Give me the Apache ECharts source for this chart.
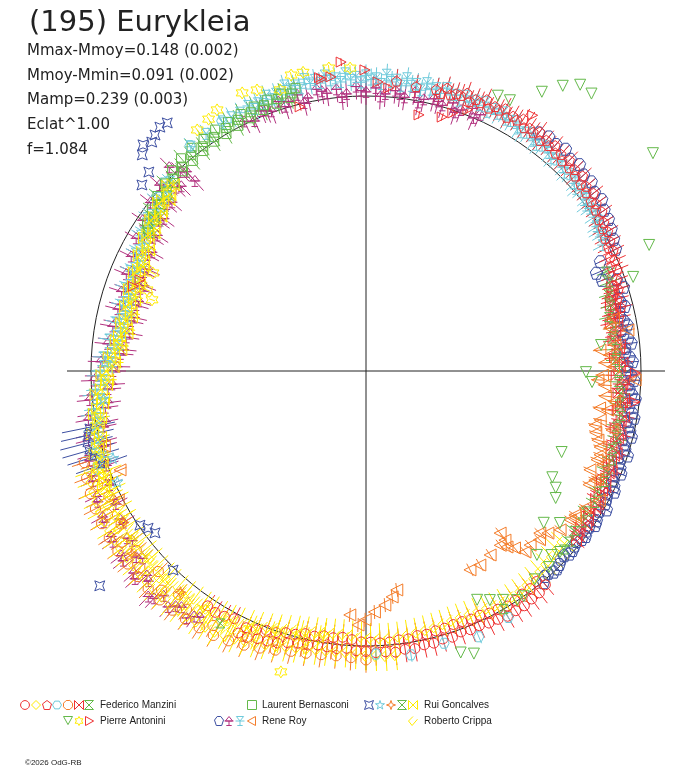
<!DOCTYPE html>
<html>
<head>
<meta charset="utf-8">
<title>(195) Eurykleia</title>
<script src="https://cdn.jsdelivr.net/npm/echarts/dist/echarts.min.js"></script>
<style>
  html, body { margin: 0; padding: 0; background: #fff; }
  #main { width: 688px; height: 768px; }
</style>
</head>
<body>
<div id="main"></div>
<script>
// points are [phase angle (deg, counter-clockwise from the right), relative radius]
// reference circle has radius 1

// Federico Manzini
var fmRedCircle = [[236,1.03],[238,1.035],[240,1.03],[242,1.02],
  [244,1.06],[246,1.061],[248,1.05],[250,1.045],[252,1.04],[254,1.029],[256,1.02],[258,1.019],[260,1.012],[262,1.013],[264,1.015],[266,1.011],[268,1.018],[270,1.02],[272,1.025],[274,1.024],[276,1.028],[278,1.022],[280,1.025],[282,1.018],[284,1.02],[286,1.014],[288,1.018],[290,1.01],[292,1.015],[294,1.014],[296,1.02],[298,1.023],[300,1.03],[302,1.028],[304,1.03],[306,1.025],[308,1.024],[310,1.015],
  [245,1.03],[247,1.022],[249,1.01],[251,1.006],[253,0.995],[255,0.991],[257,0.98],[259,0.982],[261,0.975],[263,0.977],[265,0.972],[267,0.978],[269,0.985],[271,0.986],[273,0.99],[275,0.989],[277,0.985],[279,0.986],[281,0.98],[283,0.982],[285,0.978],[287,0.978],[289,0.975],[291,0.976],[293,0.98],[295,0.98],[297,0.988],[299,0.99],[301,0.997],[303,0.995],[305,0.99],[307,0.991],[309,0.985]];
var fmYellowDiamond = [[205,1.045],[207.5,1.06],[210,1.055],[212.5,1.07],[215,1.06],[217.5,1.075],[220,1.06],[222.5,1.075],[225,1.065],[227.5,1.08],[230,1.065],[232.5,1.075],[235,1.06],[237.5,1.07],[240,1.055],[242.5,1.06],[245,1.04],[247.5,1.045],[250,1.02],[252.5,1.025],[255,1.0],[257.5,1.005],[260,0.99],
  [206,1.035],[211,1.04],[216,1.05],[221,1.045],[226,1.05],[231,1.055],[236,1.045],[241,1.04],[246,1.025],[251,1.0],[256,0.985],[261,0.975]];
var fmRedPentagon = [[12,0.94],[14,0.955],[16,0.95],[18,0.965],[20,0.97],[22,0.985],[24,0.99],[26,1.0],[28,1.005],[30,1.015],[32,1.02],[34,1.035],[36,1.035],[38,1.05],[40,1.045],[42,1.06],[44,1.055],[46,1.065],[48,1.06],[50,1.07],[52,1.065],[54,1.075],[56,1.065],[58,1.08],[60,1.07],[62,1.08],[64,1.07],[66,1.08],[68,1.065],[70,1.075],[72,1.06],[74,1.07],[76,1.055],[80,1.05],[84,1.06],
  [13,0.925],[15,0.935],[17,0.94],[19,0.955],[21,0.96],[23,0.97],[25,0.98],[27,0.99],[29,0.995],[31,1.005],[33,1.01],[35,1.02],[37,1.025],[39,1.03],[41,1.035],[43,1.04],[45,1.045],[47,1.045],[49,1.05],[51,1.055],[53,1.05],[55,1.06],[57,1.055],[59,1.065],[61,1.055],[63,1.065],[65,1.055],[67,1.06],[69,1.05],[71,1.06],[73,1.05],[75,1.045]];
var fmCyanHexagon = [[272,1.03],[279,1.045],[286,1.03],[293,1.05],[300,1.035],[120,1.05],[128,1.04]];
var fmOrangeOctagon = [[198,1.077],[201,1.088],[204,1.097],[207,1.104],[210,1.11],[213,1.113],[216,1.115],[219,1.115],[222,1.117],[225,1.12],[228,1.12],[231,1.119],[234,1.116],[237,1.113],[240,1.11],[243,1.101],[246,1.091],[249,1.079],[252,1.067],[255,1.055],[258,1.049],[261,1.044],[264,1.041],[267,1.043],[270,1.05],
  [206,1.04],[212,1.05],[218,1.06],[224,1.05],[230,1.06],
  [199,1.05],[203,1.06],[209,1.075],[215,1.085],[221,1.09],[227,1.09],[233,1.085],[239,1.08],[245,1.065],[251,1.04],[257,1.02],[263,1.01]];
var fmRedBowtie = [[322,0.975],[324,0.965],[326,0.975],[328,0.96],[330,0.975],[332,0.96],[334,0.97],[336,0.955],[338,0.965],[340,0.95],[342,0.96],[344,0.945],[346,0.955],[348,0.94],[350,0.955],[352,0.935],[354,0.945],[356,0.93],[358,0.94],[0,0.92],[2,0.935],[4,0.915],[6,0.93],[8,0.915],[10,0.93],[12,0.915],[14,0.935],[16,0.925],[18,0.945],
  [321,0.985],[323,0.97],[325,0.98],[327,0.965],[329,0.975],[331,0.955],[333,0.965],[335,0.945],[337,0.96],[339,0.945],[341,0.955],[343,0.935],[345,0.95],[347,0.93],[349,0.945],[351,0.925],[353,0.94],[355,0.92],[357,0.935],[359,0.91],[1,0.925],[3,0.905],[5,0.925],[7,0.905],[9,0.92],[11,0.905],[13,0.925],[15,0.92],[17,0.935],[19,0.945]];
var fmGreenHourglass = [[320,0.965],[322.5,0.955],[325,0.96],[327.5,0.95],[330,0.96],[332.5,0.95],[335,0.955],[337.5,0.945],[340,0.95],[342.5,0.94],[345,0.945],[347.5,0.935],[350,0.94],[352.5,0.93],[355,0.93],[357.5,0.92],[0,0.92],[2.5,0.91],[5,0.915],[7.5,0.905],[10,0.915],[12.5,0.905],[15,0.92],[17.5,0.925],[20,0.94],[22.5,0.945]];

// Pierre Antonini
var paGreenTriangle = [[64.4,1.11],[62,1.115],[57.8,1.2],[55.4,1.26],[53.2,1.3],[50.9,1.3],[37.2,1.31],[24,1.127],[19.4,1.03],[6.3,0.86],[359.7,0.8],[357.2,0.823],[337.5,0.77],[330.3,0.78],[328.4,0.81],[326.2,0.83],[319.5,0.85],[321.9,0.896],[312.9,0.913],[315.2,0.95],[288.6,1.08],[290.9,1.1],[295.9,0.925],[298.4,0.947],[300.9,0.97],[303.4,0.998],[305,1.0],[309,0.975],[313,0.975],[317,0.965]];
var paYellowStar = [[101.9,1.11],[111.2,1.096],[107,1.069],[114,1.107],[119.7,1.093],[97,1.11],[93,1.103],[104.2,1.11],[122,1.08],[125,1.07],[155.3,0.853],[161.6,0.82],[159.7,0.849],[254.2,1.137]];
var paRedTriangle = [[94.6,1.127],[90.2,1.095],[98.6,1.074],[96.8,1.077],[87.6,1.052],[85.4,1.033],[78.3,0.951],[73.3,0.964],[71.4,0.99],[68.7,1.02],[104,0.99],[99,1.08],[56.9,1.11],[158,0.886],[160,0.9],[359.6,0.98],[353.4,0.985]];

// Laurent Bernasconi
var lbGreenSquare = [[104,1.06],[105.5,1.03],[107,1.055],[108.5,1.025],[110,1.05],[111.5,1.02],[113,1.045],[114.5,1.01],[116,1.04],[117.5,1.005],[119,1.035],[120.5,1.0],[122,1.035],[123.5,1.0],[125,1.03],[126.5,0.995],[128,1.03],[129.5,0.99],[131,1.025],[132.5,0.985],[134,1.015],[135.5,0.975],[137,1.0],[138.5,0.965],[140,0.99],[141.5,0.955],[143,0.975],[144.5,0.945],[146,0.96],[147.5,0.935],
  [105,1.045],[108,1.04],[111,1.035],[114,1.03],[117,1.025],[120,1.02],[123,1.015],[126,1.01],[129,1.01],[132,1.0],[135,0.99],[138,0.975],[141,0.965],[144,0.955],[147,0.945]];

// Rene Roy
var rrBluePentagon = [[26,1.01],[28,1.02],[30,1.03],[32,1.04],[34,1.045],[36,1.06],[38,1.055],[40,1.07],[42,1.065],[44,1.08],[46,1.07],[48,1.085],[50,1.075],[52,1.08],[54,1.07],
  [25,0.94],[23,0.91],[21,0.92],[22,0.95],
  [20,0.97],[18,0.985],[16,0.955],[14,0.97],[12,0.945],[10,0.965],[8,0.945],[6,0.97],[4,0.945],[2,0.97],[0,0.95],[358,0.975],[356,0.96],[354,0.985],[352,0.965],[350,0.99],[348,0.975],[346,0.995],[344,0.975],[342,1.0],[340,0.98],[338,1.0],[336,0.985],[334,1.005],[332,0.99],[330,1.01],[328,0.99],[326,1.005],[324,0.99],[322,0.995],[320,0.99],[318,0.995],[316,0.985],[314,1.0],[312,0.99],[310,1.005],
  [311,0.99],[313,1.0],[315,0.995],[317,0.985],[319,0.995],[321,0.985],[323,1.0],[325,0.99],[327,1.0],[329,0.99],[331,0.995],[333,0.985],[335,0.995],[337,0.975],[339,0.99],[341,0.97],[343,0.985],[345,0.965],[347,0.985],[349,0.965],[351,0.98],[353,0.955],[355,0.97],[357,0.955],[359,0.965],[1,0.95],[3,0.96],[5,0.945],[7,0.96],[9,0.94],[11,0.955],[13,0.945],[15,0.96]];
var rrMagenta = [[66,1.02],[68,1.03],[70,1.01],[72,1.025],[74,1.005],[76,1.02],[78,1.01],[80,1.03],[82,1.005],[84,1.025],[86,1.01],[88,1.03],[90,1.015],[92,1.035],[94,1.01],[96,1.03],[98,1.02],[100,1.04],[102,1.015],[104,1.035],[106,1.02],[108,1.03],[110,1.005],[112,1.02],[114,0.995],[116,1.01],[132,0.93],
  [67,1.0],[71,0.995],[75,1.015],[79,0.995],[83,1.015],[87,1.0],[91,1.02],[95,1.0],[99,1.03],[103,1.0],[107,1.005],[111,1.015],
  [132,0.975],[134,1.03],[136,0.96],[138,1.01],[140,0.945],[142,0.995],[144,0.93],[146,0.98],[148,0.915],[150,0.965],[152,0.9],[154,0.95],[156,0.885],[158,0.94],[160,0.875],[162,0.935],[164,0.87],[166,0.93],[168,0.875],[170,0.935],[172,0.88],[174,0.945],[176,0.895],[178,0.965],[180,0.92],[182,0.99],[184,0.94],[186,1.01],[188,0.957],[190,1.025],[192,0.975],[194,1.04],[196,0.99],[198,1.057],[200,1.005],[202,1.07],[204,1.02],[206,1.085],[208,1.03],[210,1.1],[212,1.04],[214,1.11],[216,1.05],[218,1.12],[220,1.06],[222,1.13],[224,1.1],[226,1.14],[228,1.1],[230,1.12],[232,1.09],[234,1.11],[236,1.08],
  [133,0.99],[135,0.95],[137,0.985],[139,0.935],[141,0.97],[143,0.92],[145,0.955],[147,0.905],[149,0.94],[151,0.89],[153,0.93],[155,0.875],[157,0.925],[159,0.865],[161,0.92],[163,0.865],[165,0.92],[167,0.865],[169,0.925],[171,0.87],[173,0.935],[175,0.885],[177,0.95],[179,0.905],[181,0.975],[183,0.925],[185,1.0],[187,0.945],[189,1.015],[191,0.965],[193,1.035],[195,0.985],[197,1.05],[199,1.0],[201,1.065],[203,1.015],[205,1.08],[207,1.03],[209,1.095],[211,1.045],[213,1.105],[215,1.06],[217,1.115],[219,1.075],[221,1.12],[223,1.09],[227,1.13],[231,1.1],[235,1.09]];
var rrCyan = [[28,0.975],[30,0.99],[32,0.99],[34,1.0],[36,1.005],[38,1.015],[40,1.02],[42,1.02],[44,1.03],[46,1.03],[48,1.035],[50,1.035],[52,1.04],[54,1.035],[56,1.045],[58,1.04],[60,1.05],[62,1.065],[64,1.06],[66,1.07],[68,1.06],[70,1.065],[72,1.055],[74,1.07],[76,1.06],[78,1.07],[80,1.06],[82,1.075],[84,1.065],[86,1.08],[88,1.065],[90,1.075],[92,1.07],[94,1.085],[96,1.07],[98,1.085],[100,1.075],[102,1.085],[104,1.07],[106,1.08],[108,1.06],[110,1.065],[112,1.05],[114,1.055],[116,1.045],[118,1.045],[120,1.04],[124,1.04],[128,1.035],
  [29,1.0],[31,0.985],[33,1.005],[35,1.02],[37,1.0],[39,1.03],[41,1.01],[43,1.04],[45,1.02],[47,1.045],[49,1.025],[51,1.05],[53,1.03],[55,1.055],[57,1.035],[59,1.06],
  [61,1.045],[63,1.05],[65,1.04],[67,1.05],[69,1.045],[71,1.04],[73,1.05],[75,1.045],[77,1.05],[79,1.04],[81,1.05],[83,1.045],[85,1.055],[87,1.045],[89,1.06],[91,1.05],[93,1.06],[95,1.055],[97,1.065],[99,1.06],[101,1.065],[103,1.055],[105,1.06],[107,1.05],[109,1.045],[111,1.04],[113,1.035],
  [136,0.99],[138,0.975],[140,0.98],[142,0.96],[144,0.965],[146,0.945],[148,0.95],[150,0.93],[152,0.935],[154,0.915],[156,0.92],[158,0.905],[160,0.915],[162,0.9],[164,0.91],[166,0.895],[168,0.91],[170,0.9],[172,0.92],[174,0.91],[176,0.935],[178,0.93],[180,0.96],[182,0.955],[184,0.98],[186,0.97],[188,0.995],[190,0.985],[192,1.01],[194,1.0],[196,1.025],[198,1.01],[200,1.04],
  [137,1.0],[139,0.96],[141,0.985],[143,0.945],[145,0.97],[147,0.93],[149,0.955],[151,0.915],[153,0.94],[155,0.9],[157,0.93],[159,0.895],[161,0.925],[163,0.89],[165,0.92],[167,0.885],[169,0.925],[171,0.89],[173,0.94],[175,0.905],[177,0.955],[179,0.925],[181,0.975],[183,0.95],[185,0.995],[187,0.965],[189,1.01],[191,0.985],[193,1.03],[195,1.005],[197,1.04],[199,1.02]];
var rrOrangeTriangle = [[5.1,0.854],[3.8,0.889],[357.8,0.844],[356.6,0.87],[350.8,0.89],[348.2,0.87],[343.4,0.88],[338.4,0.927],[336.2,0.89],[335,0.929],[346.5,0.92],[6,0.91],[8.9,0.964],[358.1,0.979],[346.7,0.856],[340.3,0.904],[334.5,0.922],[331,0.97],[1,0.9],[353,0.91],
  [2,0.87],[359,0.86],[354,0.875],[351,0.86],[345,0.865],[342,0.895],[339,0.9],[333,0.91],[328,0.94],[325,0.93],[10,0.9],[12,0.92],
  [297.6,0.816],[300.4,0.818],[304,0.807],[307.6,0.8],[309.4,0.796],[310,0.84],[311.3,0.876],[313.3,0.87],[315.8,0.88],[318.3,0.886],[320.7,0.912],[323.9,0.919],[325.4,0.923],[309.6,0.765],[308.7,0.82],[317,0.864],
  [269.8,0.905],[272,0.877],[274.6,0.854],[276.6,0.827],[278,0.804],[268.2,0.924],[266.2,0.889],
  [201.9,0.964],[207.5,1.016],[196,0.99]];

// Rui Goncalves
var rgBlueStar = [[128.7,1.156],[130.2,1.161],[131.8,1.151],[133.1,1.14],[134.6,1.155],[136,1.131],[137.5,1.071],[140.3,1.059],[214.3,0.995],[215.8,0.977],[217.5,0.967],[225.9,1.008],[218.9,1.244]];
var rgBlueWide = [[191.5,1.03],[193,1.04],[194.5,1.05],[196,1.05],[197.5,1.04],[199.5,1.02]];
var rgCyanStar = [[178,0.95],[186,0.96],[199,0.973],[204,0.99]];
var rgOrangeStar = [[212,1.04],[218,1.08],[230,1.05]];
var rgGreenHourglass = [[300,1.0],[318,0.97],[240,1.06]];
var rgYellowBowtie = [[136,0.975],[138,0.96],[140,0.965],[142,0.945],[144,0.95],[146,0.93],[148,0.935],[150,0.915],[152,0.92],[154,0.9],[156,0.905],[158,0.89],[160,0.9],[162,0.885],[164,0.895],[166,0.88],[168,0.895],[170,0.885],[172,0.905],[174,0.9],[176,0.92],[178,0.915],[180,0.945],[182,0.94],[184,0.965],[186,0.96],[188,0.985],[190,0.98],[192,1.0],[194,0.995],[196,1.015],[198,1.01],[200,1.03],[202,1.025],[204,1.045],
  [137,0.985],[139,0.95],[141,0.97],[143,0.935],[145,0.955],[147,0.92],[149,0.94],[151,0.905],[153,0.925],[155,0.895],[157,0.915],[159,0.885],[161,0.91],[163,0.88],[165,0.905],[167,0.875],[169,0.905],[171,0.88],[173,0.915],[175,0.895],[177,0.935],[179,0.92],[181,0.96],[183,0.945],[185,0.985],[187,0.965],[189,1.0],[191,0.99],[193,1.02],[195,1.0],[197,1.03],[199,1.015],[201,1.045],[203,1.03]];

// Roberto Crippa
var rcYellowCheck = [[200,1.07],[202,1.076],[204,1.082],[206,1.087],[208,1.091],[210,1.095],[212,1.097],[214,1.099],[216,1.1],[218,1.1],[220,1.1],[222,1.102],[224,1.104],[226,1.105],[228,1.105],[230,1.105],[232,1.103],[234,1.101],[236,1.099],[238,1.097],[240,1.095],[242,1.089],[244,1.083],[246,1.076],[248,1.068],[250,1.06],[252,1.052],[254,1.044],[256,1.038],[258,1.034],[260,1.03],[262,1.028],[264,1.026],[266,1.026],[268,1.03],[270,1.035],[272,1.037],[274,1.039],[276,1.039],
  [201,1.008],[203,1.014],[205,1.02],[207,1.024],[209,1.028],[211,1.031],[213,1.033],[215,1.035],[217,1.035],[219,1.035],[221,1.036],[223,1.038],[225,1.04],[227,1.04],[229,1.04],[231,1.039],[233,1.037],[235,1.035],[237,1.033],[239,1.031],[241,1.027],[243,1.021],[245,1.014],[247,1.007],[249,0.999],[251,0.991],[253,0.983],[255,0.976],[257,0.971],[259,0.967],[261,0.964],[263,0.962],[265,0.961],[267,0.963],[269,0.967],[271,0.971],[273,0.973],[275,0.974],[277,0.973],[279,0.971],[281,0.969],[283,0.967],[285,0.965],[287,0.963],[289,0.961],[291,0.961],[293,0.963],[295,0.966],[297,0.97],[299,0.976],[301,0.98],[303,0.98],[305,0.979],[307,0.976],[309,0.972],[311,0.967],[313,0.961],[315,0.956],[317,0.951],[319,0.947]];

var titleText = '(195) Eurykleia';
var statLines = ['Mmax-Mmoy=0.148 (0.002)', 'Mmoy-Mmin=0.091 (0.002)', 'Mamp=0.239 (0.003)', 'Eclat^1.00', 'f=1.084'];
var observers = ['Federico Manzini', 'Pierre Antonini', 'Laurent Bernasconi', 'Rene Roy', 'Rui Goncalves', 'Roberto Crippa'];

var RED = '#ee3234', YEL = '#ffec00', CYA = '#6fcadb', GRN = '#64b94a',
    ORA = '#f47d2a', BLU = '#3e50a2', MAG = '#b2327f', INK = '#222';

// marker outlines in a 10x10 box: list of [closed, points]
var SYM = {
  circle: [[1, [[5,0],[7.5,0.7],[9.3,2.5],[10,5],[9.3,7.5],[7.5,9.3],[5,10],[2.5,9.3],[0.7,7.5],[0,5],[0.7,2.5],[2.5,0.7]]]],
  diamond: [[1, [[5,0],[10,5],[5,10],[0,5]]]],
  pentagon: [[1, [[5,0],[10,3.8],[8.1,10],[1.9,10],[0,3.8]]]],
  hexagon: [[1, [[2.5,0.7],[7.5,0.7],[10,5],[7.5,9.3],[2.5,9.3],[0,5]]]],
  octagon: [[1, [[3,0],[7,0],[10,3],[10,7],[7,10],[3,10],[0,7],[0,3]]]],
  bowtie: [[1, [[0,0],[10,10],[10,0],[0,10]]]],
  hourglass: [[1, [[0,0],[10,0],[0,10],[10,10]]]],
  triDown: [[1, [[0,0],[10,0],[5,9]]]],
  triRight: [[1, [[0,0],[9,5],[0,10]]]],
  triLeft: [[1, [[10,0],[1,5],[10,10]]]],
  square: [[1, [[0,0],[10,0],[10,10],[0,10]]]],
  star6: [[1, [[5,0],[6.4,2.5],[9.3,2.5],[7.9,5],[9.3,7.5],[6.4,7.5],[5,10],[3.6,7.5],[0.7,7.5],[2.1,5],[0.7,2.5],[3.6,2.5]]]],
  star5: [[1, [[5,0],[6.2,3.6],[10,3.6],[6.9,5.9],[8.1,9.5],[5,7.3],[1.9,9.5],[3.1,5.9],[0,3.6],[3.8,3.6]]]],
  star4: [[1, [[5,0],[6.3,3.7],[10,5],[6.3,6.3],[5,10],[3.7,6.3],[0,5],[3.7,3.7]]]],
  star4c: [[1, [[0,0],[5,2],[10,0],[8,5],[10,10],[5,8],[0,10],[2,5]]]],
  blob: [[1, [[3,0],[7,0],[10,4],[8,10],[2,10],[0,4]]]],
  tridentUp: [[1, [[5,0],[9,5],[1,5]]], [0, [[0,5],[10,5]]], [0, [[5,5],[5,10]]], [0, [[2,10],[8,10]]]],
  tridentDown: [[1, [[1,0],[9,0],[5,5]]], [0, [[0,5],[10,5]]], [0, [[5,5],[5,10]]], [0, [[2,10],[8,10]]]],
  check: [[0, [[5,0],[0,5],[4,10],[10,3]]]]
};

function symPath(name) {
  return 'path://' + SYM[name].map(function (sp) {
    return sp[1].map(function (p, i) { return (i ? 'L' : 'M') + p[0] + ',' + p[1]; }).join(' ') + (sp[0] ? ' Z' : '');
  }).join(' ');
}

// drawing order = list order
var sessions = [
  {data: rrMagenta, color: MAG, sym: 'tridentUp', size: 11, bar: 26},
  {data: rrCyan, color: CYA, sym: 'tridentDown', size: 11, bar: 22},
  {data: lbGreenSquare, color: GRN, sym: 'square', size: 9, bar: 22},
  {data: fmOrangeOctagon, color: ORA, sym: 'octagon', size: 10, bar: 26},
  {data: rrBluePentagon, color: BLU, sym: 'blob', size: 12, bar: 12},
  {data: fmRedCircle, color: RED, sym: 'circle', size: 10, bar: 26},
  {data: fmRedPentagon, color: RED, sym: 'pentagon', size: 10, bar: 24},
  {data: fmRedBowtie, color: RED, sym: 'bowtie', size: 10, bar: 20},
  {data: fmGreenHourglass, color: GRN, sym: 'hourglass', size: 9, bar: 20},
  {data: rrOrangeTriangle, color: ORA, sym: 'triLeft', size: 12, bar: 14},
  {data: fmYellowDiamond, color: YEL, sym: 'diamond', size: 10, bar: 28},
  {data: rcYellowCheck, color: YEL, sym: 'check', size: 11, bar: 30},
  {data: rgYellowBowtie, color: YEL, sym: 'bowtie', size: 12, bar: 18},
  {data: fmCyanHexagon, color: CYA, sym: 'hexagon', size: 10, bar: 14},
  {data: rgCyanStar, color: CYA, sym: 'star5', size: 11, bar: 12},
  {data: rgOrangeStar, color: ORA, sym: 'star4', size: 11, bar: 12},
  {data: rgGreenHourglass, color: GRN, sym: 'hourglass', size: 9, bar: 12},
  {data: rgBlueStar, color: BLU, sym: 'star4c', size: 10, bar: 0},
  {data: rgBlueWide, color: BLU, sym: 'star4c', size: 7, bar: 54},
  {data: paYellowStar, color: YEL, sym: 'star6', size: 12, bar: 6},
  {data: paGreenTriangle, color: GRN, sym: 'triDown', size: 11, bar: 0},
  {data: paRedTriangle, color: RED, sym: 'triRight', size: 10, bar: 8}
];

// legend rows: icons per observer, then name
var legendIcons = [
  {y: 705, items: [[25,RED,'circle'],[36,YEL,'diamond'],[47,RED,'pentagon'],[57,CYA,'hexagon'],[68,ORA,'octagon'],[79,RED,'bowtie'],[89,GRN,'hourglass']]},
  {y: 721, items: [[68,GRN,'triDown'],[79,YEL,'star6'],[90,RED,'triRight']]},
  {y: 705, items: [[252,GRN,'square']]},
  {y: 721, items: [[219,BLU,'blob'],[229,MAG,'tridentUp'],[240,CYA,'tridentDown'],[251,ORA,'triLeft']]},
  {y: 705, items: [[369,BLU,'star4c'],[380,CYA,'star5'],[391,ORA,'star4'],[402,GRN,'hourglass'],[413,YEL,'bowtie']]},
  {y: 721, items: [[413,YEL,'check']]}
];
var legendTextX = [100, 100, 262, 262, 424, 424];

var CX = 366, CY = 371;

var chart = echarts.init(document.getElementById('main'));

var series = [];
sessions.forEach(function (s) {
  var pts = s.data.map(function (d) { return [d[1], d[0]]; });
  if (s.bar > 0) {
    series.push({
      type: 'custom',
      coordinateSystem: 'polar',
      polarIndex: 0,
      silent: true,
      data: pts,
      renderItem: function (params, api) {
        var p = api.coord([api.value(0), api.value(1)]);
        var dx = p[0] - CX, dy = p[1] - CY;
        var d = Math.sqrt(dx * dx + dy * dy) || 1;
        var h = s.bar / 2;
        return {
          type: 'line',
          shape: {x1: p[0] - dx / d * h, y1: p[1] - dy / d * h, x2: p[0] + dx / d * h, y2: p[1] + dy / d * h},
          style: {stroke: s.color, lineWidth: 1}
        };
      }
    });
  }
  series.push({
    type: 'scatter',
    coordinateSystem: 'polar',
    polarIndex: 0,
    symbol: symPath(s.sym),
    symbolSize: s.size,
    data: pts,
    itemStyle: {color: 'rgba(0,0,0,0)', borderColor: s.color, borderWidth: 1, opacity: 1}
  });
});

var graphics = [];
statLines.forEach(function (t, i) {
  graphics.push({type: 'text', x: 27, y: 51 + i * 24.8,
    style: {text: t, fill: INK, font: '15px "DejaVu Sans", sans-serif', textVerticalAlign: 'middle'}});
});
legendIcons.forEach(function (row, k) {
  row.items.forEach(function (it) {
    SYM[it[2]].forEach(function (sp) {
      var pts = sp[1].map(function (p) { return [it[0] - 4.5 + p[0] * 0.9, row.y - 4.5 + p[1] * 0.9]; });
      graphics.push({type: sp[0] ? 'polygon' : 'polyline', shape: {points: pts},
        style: {fill: 'none', stroke: it[1], lineWidth: 1}});
    });
  });
  graphics.push({type: 'text', x: legendTextX[k], y: row.y,
    style: {text: observers[k], fill: INK, font: '10px "Liberation Sans", Arial, sans-serif', textVerticalAlign: 'middle'}});
});
graphics.push({type: 'text', x: 25, y: 763,
  style: {text: '\u00a92026 OdG-RB', fill: INK, font: '8px "Liberation Sans", Arial, sans-serif', textVerticalAlign: 'middle'}});

chart.setOption({
  animation: false,
  backgroundColor: '#fff',
  title: {
    text: titleText,
    left: 24, top: 4,
    textStyle: {fontSize: 29, fontWeight: 'normal', color: INK, fontFamily: '"DejaVu Sans", sans-serif'}
  },
  polar: [
    {center: [CX, CY], radius: 385},
    {center: [CX, CY], radius: 275},
    {center: [CX, CY], radius: 299}
  ],
  angleAxis: [
    {polarIndex: 0, type: 'value', min: 0, max: 360, startAngle: 0, clockwise: false, show: false},
    {polarIndex: 1, type: 'value', min: 0, max: 360, startAngle: 0, clockwise: false,
      axisLine: {show: true, lineStyle: {color: INK, width: 1}}, axisTick: {show: false}, axisLabel: {show: false}, splitLine: {show: false}},
    {polarIndex: 2, type: 'value', min: 0, max: 360, interval: 90, startAngle: 0, clockwise: false,
      axisLine: {show: false}, axisTick: {show: false}, axisLabel: {show: false},
      splitLine: {show: true, lineStyle: {color: INK, width: 1}}}
  ],
  radiusAxis: [
    {polarIndex: 0, type: 'value', min: 0, max: 1.4, show: false},
    {polarIndex: 1, type: 'value', min: 0, max: 1, show: false},
    {polarIndex: 2, type: 'value', min: 0, max: 1, show: false}
  ],
  graphic: graphics,
  series: series
});
</script>
</body>
</html>
